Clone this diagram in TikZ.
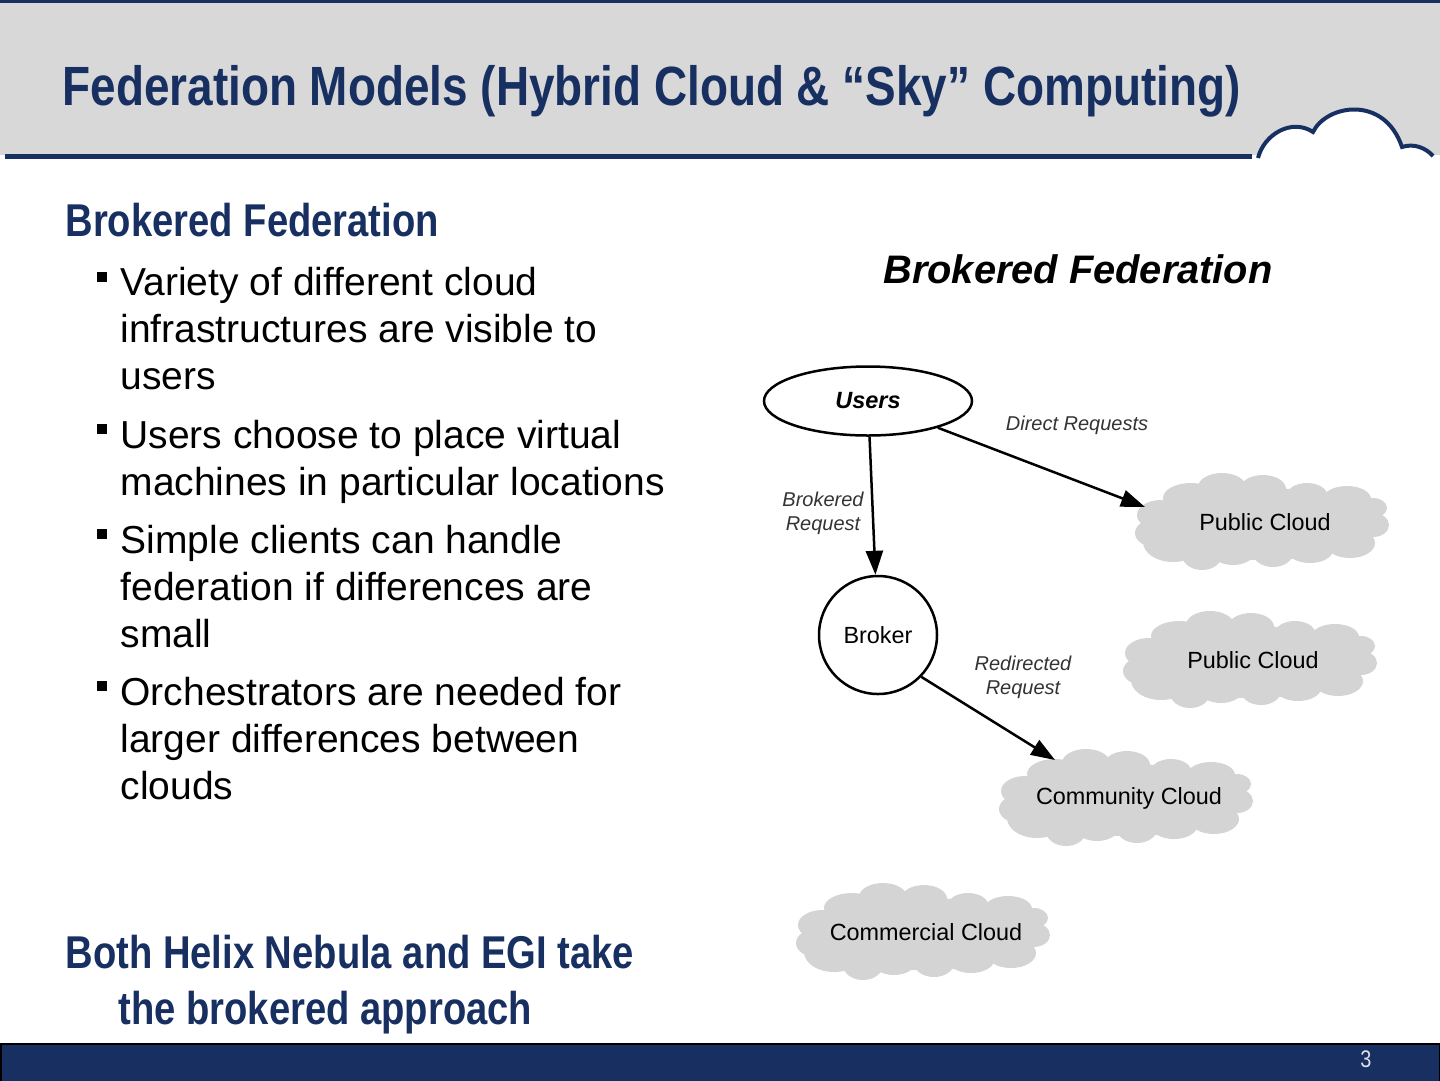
\documentclass[tikz,border=0pt]{standalone}
\usepackage{fontspec}
\setmainfont{Liberation Sans}
\newfontfamily\narrowfont[FakeStretch=0.83]{Liberation Sans}
\usetikzlibrary{arrows.meta, positioning, shapes.geometric}
\definecolor{navy}{RGB}{23,48,97}
\definecolor{band}{RGB}{216,216,216}
\definecolor{puff}{RGB}{212,212,212}
% gray cloud: #1 name, #2 position, #3 label
\newcommand{\puffcloud}[3]{
  \begin{scope}[shift={#2}]
    \fill[puff] (0,2) ellipse [x radius=118pt, y radius=36pt];
    \foreach \dx/\dy/\rx/\ry in {-41/-35/24/14, 0/-33/23/14, 44/-27/20/12, 84/-23/24/13, 110/-14/14/10, 110/3/16/12,
      87/21/25/15, 47/28/23/13, 10/31/20/14, -30/28/23/15, -61/33/20/15, -90/20/30/20, -108/11/20/14, -102/-7/24/15, -72/-24/28/15}
      \fill[puff] (\dx,\dy) ellipse [x radius=\rx pt, y radius=\ry pt];
    \node[cloudlabel] (#1) at (2,0) {#3};
  \end{scope}
}
\begin{document}
\begin{tikzpicture}[
  x=1pt, y=-1pt,
  >={Triangle[length=24pt,width=17pt]},
  heading/.style={anchor=west, align=left, text=navy, font=\narrowfont\bfseries\fontsize{46}{56}\selectfont},
  bodytext/.style={anchor=west, align=left, font=\fontsize{39}{47}\selectfont},
  bulletmark/.style={fill=black, rectangle, inner sep=0pt, minimum size=10pt},
  cloudlabel/.style={inner sep=0pt, font=\fontsize{23.4}{28}\selectfont},
  edgelabel/.style={align=center, text=black!80, font=\itshape\fontsize{20}{24}\selectfont}
]
  \useasboundingbox (0,0) rectangle (1440,1080);

  % Title band and footer
  \fill[band] (0,3) rectangle (1440,155);
  \fill[navy] (0,0) rectangle (1440,3);
  \fill[navy] (5,154) rectangle (1252,159);
  \draw[navy, line width=4pt, fill=white] (1258,158) .. controls (1264,134) and (1292,118) .. (1313,132)
    .. controls (1326,105) and (1384,94) .. (1402,147) .. controls (1414,143) and (1426,148) .. (1433,156);
  \draw[black, line width=1.5pt, fill=navy] (0.75,1044) rectangle (1439.25,1084);
  \node[text=white!85!navy, font=\narrowfont\fontsize{24}{28}\selectfont] (pagenum) at (1366,1059) {3};
  \node[anchor=west, text=navy, font=\narrowfont\bfseries\fontsize{55.3}{60}\selectfont] (title) at (59,91) {Federation Models (Hybrid Cloud \& “Sky” Computing)};

  % Left column
  \node[heading] (headA) at (62,220) {Brokered Federation};
  \node[bodytext] (itemA) at (117,329) {Variety of different cloud\\infrastructures are visible to\\users};
  \node[bodytext] (itemB) at (117,462) {Users choose to place virtual\\machines in particular locations};
  \node[bodytext] (itemC) at (117,587) {Simple clients can handle\\federation if differences are\\small};
  \node[bodytext] (itemD) at (117,739) {Orchestrators are needed for\\larger differences between\\clouds};
  \node[bulletmark] (markA) at (102,277) {};
  \node[bulletmark] (markB) at (102,429) {};
  \node[bulletmark] (markC) at (102,534) {};
  \node[bulletmark] (markD) at (102,686) {};
  \node[heading] (headB) at (62,985) {Both Helix Nebula and EGI take\\\hspace*{53pt}the brokered approach};

  % Diagram
  \node[font=\bfseries\itshape\fontsize{39.8}{44}\selectfont] (diagtitle) at (1078,269) {Brokered Federation};
  \node[draw, line width=2.5pt, ellipse, fill=white, minimum width=208pt, minimum height=69pt, font=\bfseries\itshape\fontsize{23.5}{26}\selectfont] (users) at (868,401) {Users};
  \node[draw, line width=2.5pt, circle, minimum size=118pt, font=\fontsize{23.4}{28}\selectfont] (broker) at (878,635) {Broker};
  \puffcloud{pubA}{(1263,522)}{Public Cloud}
  \puffcloud{pubB}{(1251,660)}{Public Cloud}
  \puffcloud{comm}{(1127,798)}{Community Cloud}
  \puffcloud{commerc}{(924,932)}{Commercial Cloud}
  \coordinate (pubtip) at (1145,507);
  \coordinate (commtip) at (1055,760);

  % Connectors
  \draw[->, line width=2.5pt] (users) -- (broker);
  \draw[->, line width=2.5pt] (users) -- (pubtip);
  \draw[->, line width=2.5pt] (broker.-44) -- (commtip);

  % Labels on the connectors
  \node[edgelabel] (lblA) at (1077,425) {Direct Requests};
  \node[edgelabel] (lblB) at (823,513) {Brokered\\Request};
  \node[edgelabel] (lblC) at (1023,677) {Redirected\\Request};
\end{tikzpicture}
\end{document}
